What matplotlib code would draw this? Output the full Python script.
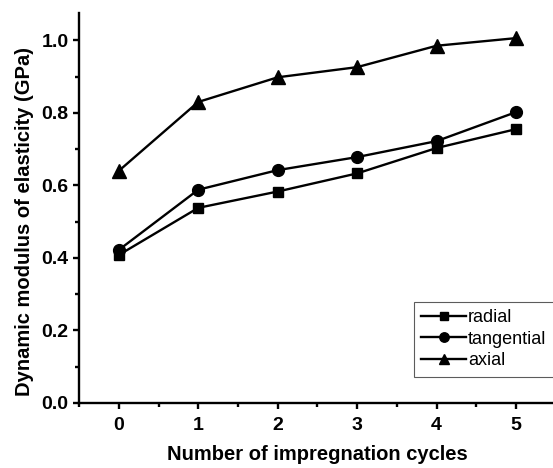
import numpy as np
import matplotlib
matplotlib.use('Agg')
import matplotlib.pyplot as plt
from matplotlib.ticker import MultipleLocator

plt.rcParams['font.family'] = ['Liberation Sans', 'DejaVu Sans']

cycles = [0, 1, 2, 3, 4, 5]
radial = [0.408, 0.538, 0.583, 0.633, 0.703, 0.755]
tangential = [0.422, 0.588, 0.642, 0.678, 0.722, 0.802]
axial = [0.640, 0.830, 0.898, 0.926, 0.985, 1.006]

fig = plt.figure(figsize=(5.53, 4.68), dpi=100)
ax = fig.add_axes([0.143, 0.139, 1.005 - 0.143, 0.972 - 0.139])

ax.plot(cycles, radial, '-s', color='k', lw=1.7, ms=7.5, label='radial')
ax.plot(cycles, tangential, '-o', color='k', lw=1.7, ms=8.5, label='tangential')
ax.plot(cycles, axial, '-^', color='k', lw=1.7, ms=9.5, label='axial')

ax.set_xlim(-0.5, 5.5)
ax.set_ylim(0, 1.075)
ax.xaxis.set_major_locator(MultipleLocator(1))
ax.xaxis.set_minor_locator(MultipleLocator(0.5))
ax.yaxis.set_major_locator(MultipleLocator(0.2))
ax.yaxis.set_minor_locator(MultipleLocator(0.1))

for s in ['top', 'right']:
    ax.spines[s].set_visible(False)
for s in ['left', 'bottom']:
    ax.spines[s].set_linewidth(1.7)
ax.tick_params(which='major', direction='out', length=4, width=1.7, labelsize=14)
ax.tick_params(which='minor', direction='out', length=3, width=1.7)
ax.tick_params(axis='x', which='major', pad=6)
ax.tick_params(axis='y', which='major', pad=3.5)
for lab in ax.get_xticklabels() + ax.get_yticklabels():
    lab.set_fontweight('bold')

ax.set_xlabel('Number of impregnation cycles', fontsize=14.5, fontweight='bold', labelpad=8)
ax.set_ylabel('Dynamic modulus of elasticity (GPa)', fontsize=14.5, fontweight='bold', labelpad=4)
ax.yaxis.set_label_coords(-0.094, 0.465)

leg = fig.legend(loc='upper left', bbox_to_anchor=(414 / 553, 1 - 301.7 / 468), fontsize=13,
                 frameon=True, fancybox=False, edgecolor='#333333', handlelength=2.5,
                 handletextpad=0.1, labelspacing=0.26, borderpad=0.4, borderaxespad=0,
                 markerscale=0.8)
leg.get_frame().set_linewidth(0.8)

fig.savefig('out.png', dpi=100)
